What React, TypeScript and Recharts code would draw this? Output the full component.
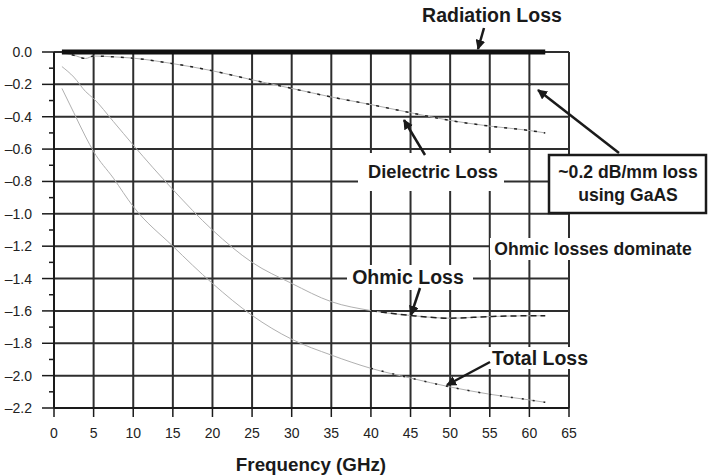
import { LineChart, Line, XAxis, YAxis, CartesianGrid, ReferenceDot } from 'recharts';

// frequency samples (GHz) and loss in dB for each curve
const FREQ = [1, 2.5, 4, 5, 7.5, 10, 15, 20, 25, 30, 35, 40, 45, 50, 55, 60, 62];
const RADIATION = [0, 0, 0, 0, 0, 0, 0, 0, 0, 0, 0, 0, 0, 0, 0, 0, 0];
const DIELECTRIC = [
  -0.005, -0.02, -0.04, -0.025, -0.03, -0.038, -0.072, -0.116, -0.172, -0.225, -0.278, -0.325,
  -0.375, -0.423, -0.458, -0.485, -0.5,
];
const OHMIC = [
  -0.09, -0.155, -0.245, -0.288, -0.43, -0.575, -0.85, -1.1, -1.3, -1.43, -1.543, -1.598, -1.628,
  -1.645, -1.635, -1.63, -1.63,
];
const TOTAL = [
  -0.225, -0.375, -0.525, -0.615, -0.78, -0.955, -1.2, -1.43, -1.628, -1.775, -1.873, -1.955,
  -2.015, -2.07, -2.115, -2.15, -2.165,
];

const X_TICKS = [0, 5, 10, 15, 20, 25, 30, 35, 40, 45, 50, 55, 60, 65];
const Y_MAJOR = [0, -0.2, -0.4, -0.6, -0.8, -1.0, -1.2, -1.4, -1.6, -1.8, -2.0, -2.2];
const Y_MINOR = [-0.1, -0.3, -0.5, -0.7, -0.9, -1.1, -1.3, -1.5, -1.7, -1.9, -2.1];

// where the dark dashes start on each curve
const OHMIC_DASH_FROM = 40;
const TOTAL_DASH_FROM = 40;

const GAAS_POINT = { f: 60, loss: -0.2 };

const FONT = '"Liberation Sans", Arial, Helvetica, sans-serif';
const INK = '#1a1a1a';
const GRID = '#2e2e2e';

const rows = FREQ.map((f, i) => ({
  f,
  radiation: RADIATION[i],
  dielectric: DIELECTRIC[i],
  ohmic: OHMIC[i],
  total: TOTAL[i],
  ohmicDash: f >= OHMIC_DASH_FROM ? OHMIC[i] : null,
  totalDash: f >= TOTAL_DASH_FROM ? TOTAL[i] : null,
}));

const fmt = (v: number) => v.toFixed(1).replace('-', '\u2013');

function YTick(props: any) {
  const { x, y, payload } = props;
  const v = payload.value as number;
  const axisX = x + 22;
  const major = Y_MAJOR.some((m) => Math.abs(m - v) < 1e-6);
  return (
    <g>
      <line x1={axisX - (major ? 12 : 5)} x2={axisX} y1={y} y2={y} stroke={INK} strokeWidth={1.5} />
      {major && (
        <text x={x} y={y} dy="0.36em" textAnchor="end" fontSize={14} fill="#222" fontFamily={FONT}>
          {fmt(v)}
        </text>
      )}
    </g>
  );
}

function Arrow({ x1, y1, x2, y2 }: { x1: number; y1: number; x2: number; y2: number }) {
  return <line x1={x1} y1={y1} x2={x2} y2={y2} stroke={INK} strokeWidth={2.5} markerEnd="url(#head)" />;
}

function Label({ x, y, text, size = 18 }: { x: number; y: number; text: string; size?: number }) {
  return (
    <text x={x} y={y} dy="0.36em" textAnchor="middle" fontSize={size} fontWeight="bold" fill={INK} fontFamily={FONT}>
      {text}
    </text>
  );
}

function Annotations() {
  return (
    <svg width={709} height={476} style={{ position: 'absolute', left: 0, top: 0, pointerEvents: 'none' }}>
      <defs>
        <marker id="head" viewBox="0 0 10 10" refX="9" refY="5" markerWidth="4" markerHeight="4" orient="auto">
          <path d="M0,0 L10,5 L0,10 z" fill={INK} />
        </marker>
      </defs>

      <Label x={492} y={15} text="Radiation Loss" size={19.5} />
      <Arrow x1={484} y1={28} x2={478} y2={49} />

      <rect x={358} y={153} width={146} height={38} fill="#fff" />
      <Label x={433} y={171} text="Dielectric Loss" size={18.3} />
      <Arrow x1={425} y1={155} x2={404} y2={120} />

      <rect x={549} y={155} width={157} height={58} fill="#fff" stroke={INK} strokeWidth={2.5} />
      <Label x={628} y={172} text="~0.2 dB/mm loss" size={17.6} />
      <Label x={628} y={195} text="using GaAS" size={17.6} />
      <Arrow x1={619} y1={153} x2={538} y2={90} />

      <rect x={490} y={238} width={210} height={22} fill="#fff" />
      <Label x={593} y={249} text="Ohmic losses dominate" size={17.6} />

      <rect x={347} y={265} width={126} height={25} fill="#fff" />
      <Label x={408} y={277} text="Ohmic Loss" size={19.5} />
      <Arrow x1={420} y1={288} x2={411} y2={315} />

      <rect x={486} y={347} width={106} height={22} fill="#fff" />
      <Label x={540} y={358} text="Total Loss" size={19.5} />
      <Arrow x1={490} y1={362} x2={447} y2={385} />

      <Label x={311} y={464} text="Frequency (GHz)" size={18.8} />
    </svg>
  );
}

export default function App() {
  return (
    <div style={{ position: 'fixed', left: 0, top: 0, width: 709, height: 476, background: '#fff', fontFamily: FONT }}>
      <LineChart width={709} height={476} data={rows} margin={{ top: 52, right: 140, bottom: 0, left: 0 }}>
        <CartesianGrid
          stroke={GRID}
          strokeWidth={2}
          horizontalValues={Y_MAJOR}
          verticalValues={X_TICKS}
        />
        <XAxis
          dataKey="f"
          type="number"
          domain={[0, 65]}
          ticks={X_TICKS}
          interval={0}
          height={68}
          tickSize={9}
          tickMargin={11}
          axisLine={{ stroke: INK, strokeWidth: 2 }}
          tickLine={{ stroke: INK, strokeWidth: 1.5 }}
          tick={{ fontSize: 14, fill: '#222', fontFamily: FONT }}
        />
        <YAxis
          type="number"
          domain={[-2.2, 0]}
          ticks={[...Y_MAJOR, ...Y_MINOR]}
          interval={0}
          width={54}
          tickSize={12}
          tickMargin={10}
          tickLine={false}
          axisLine={{ stroke: INK, strokeWidth: 2 }}
          tick={<YTick />}
        />
        <Line type="monotone" dataKey="dielectric" stroke="#b0b0b0" strokeWidth={1} dot={false} activeDot={false} isAnimationActive={false} />
        <Line type="monotone" dataKey="dielectric" stroke="#222" strokeWidth={1.5} strokeDasharray="3 7" dot={false} activeDot={false} isAnimationActive={false} />
        <Line type="monotone" dataKey="ohmic" stroke="#b0b0b0" strokeWidth={1} dot={false} activeDot={false} isAnimationActive={false} />
        <Line type="monotone" dataKey="ohmicDash" stroke="#222" strokeWidth={1.5} strokeDasharray="6 4" dot={false} activeDot={false} connectNulls={false} isAnimationActive={false} />
        <Line type="monotone" dataKey="total" stroke="#b0b0b0" strokeWidth={1} dot={false} activeDot={false} isAnimationActive={false} />
        <Line type="monotone" dataKey="totalDash" stroke="#222" strokeWidth={1.5} strokeDasharray="2 9" dot={false} activeDot={false} connectNulls={false} isAnimationActive={false} />
        <Line type="linear" dataKey="radiation" stroke="#111" strokeWidth={5} dot={false} activeDot={false} isAnimationActive={false} />
        <ReferenceDot x={GAAS_POINT.f} y={GAAS_POINT.loss} r={1.5} fill="#333" stroke="none" />
      </LineChart>
      <Annotations />
    </div>
  );
}
